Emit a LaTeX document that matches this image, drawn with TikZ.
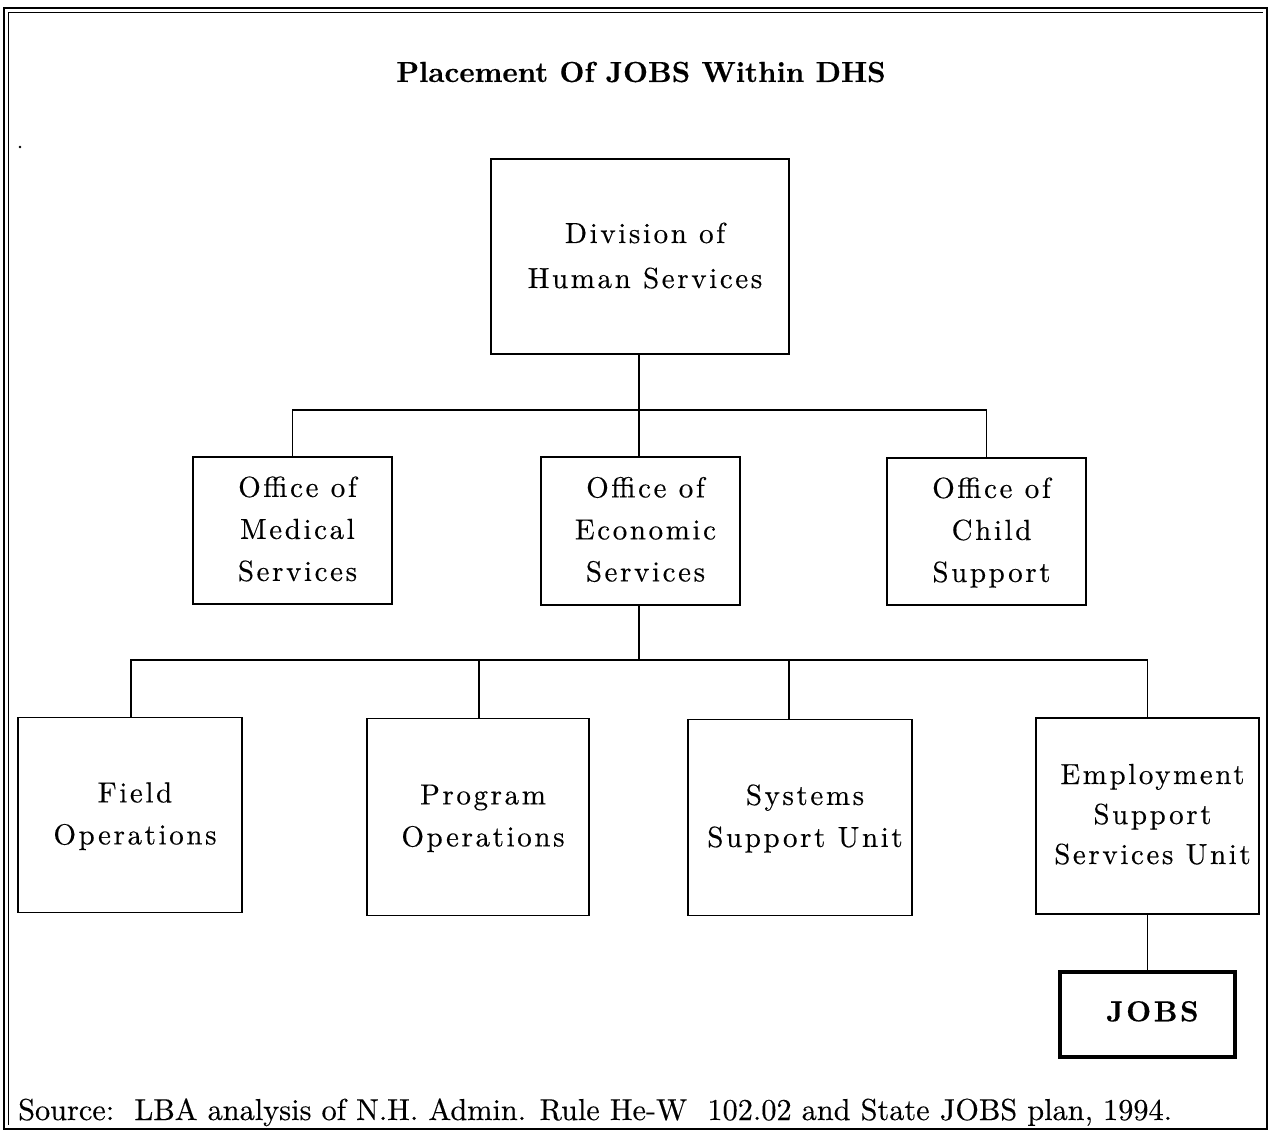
\documentclass[tikz,border=0pt]{standalone}
\usepackage{fontspec}
\setmainfont{lmroman10-regular.otf}[BoldFont=lmroman10-bold.otf,FakeBold=0.3]
\newfontfamily\spacedfont{lmroman10-regular.otf}[LetterSpace=9,BoldFont=lmroman10-bold.otf,FakeBold=0.4]
\newcommand\boxtext[1]{\begin{tabular}{@{\hspace{10pt}}c@{}}#1\end{tabular}}
\begin{document}
\begin{tikzpicture}[x=1pt,y=-1pt,
  orgbox/.style={draw,line width=1.5pt,inner sep=0pt,align=center,
    font=\spacedfont\fontsize{29}{42}\selectfont},
  conn/.style={line width=1.5pt},
  frameline/.style={line width=1.3pt}]
\useasboundingbox (0,0) rectangle (1269,1131);
% frame
\draw[frameline] (4,1129) -- (4,8) -- (1267,8) -- (1267,1129) -- cycle;
\draw[line width=0.9pt] (8,1125) -- (8,12) -- (1263,12);
\fill (20,147) circle (1.3);
% title
\node[font=\fontsize{29}{34}\selectfont\bfseries] (title) at (641,72) {Placement Of JOBS Within DHS};
% boxes
\node[orgbox,minimum width=298pt,minimum height=195pt,font=\spacedfont\fontsize{29}{45}\selectfont] (dhs) at (640,256.5) {\boxtext{Division of\\Human Services}};
\node[orgbox,minimum width=199pt,minimum height=147pt] (med) at (292.5,530.5) {\boxtext{Office of\\Medical\\Services}};
\node[orgbox,minimum width=199pt,minimum height=148pt] (eco) at (640.5,531) {\boxtext{Office of\\Economic\\Services}};
\node[orgbox,minimum width=199pt,minimum height=147pt] (chi) at (986.5,531.5) {\boxtext{Office of\\Child\\Support}};
\node[orgbox,minimum width=224pt,minimum height=195pt] (fld) at (130,815) {\boxtext{Field\\Operations}};
\node[orgbox,minimum width=222pt,minimum height=197pt] (prg) at (478,817) {\boxtext{Program\\Operations}};
\node[orgbox,minimum width=224pt,minimum height=196pt] (sys) at (800,817.5) {\boxtext{Systems\\Support Unit}};
\node[orgbox,minimum width=223pt,minimum height=196pt,font=\spacedfont\fontsize{29}{40}\selectfont] (emp) at (1147.5,816) {\boxtext{Employment\\Support\\Services Unit}};
\node[orgbox,line width=4pt,minimum width=175pt,minimum height=85pt,font=\spacedfont\fontsize{29}{34}\selectfont\bfseries] (jobs) at (1147.5,1014.5) {\boxtext{JOBS}};
% connectors level 1
\coordinate (j1) at (639,410);
\draw[conn] ([xshift=-1pt]dhs.south) -- (j1);
\draw[conn] (med.north) |- (j1) -| (chi.north);
\draw[conn] (j1) -- ([xshift=-1.5pt]eco.north);
% connectors level 2
\coordinate (j2) at (639,660);
\draw[conn] ([xshift=-1.5pt]eco.south) -- (j2);
\draw[conn] ([xshift=1pt]fld.north) |- (j2) -| (emp.north);
\draw[conn] ([xshift=1pt]prg.north) |- (j2);
\draw[conn] ([xshift=-11pt]sys.north) |- (j2);
\draw[conn] (emp.south) -- (jobs.north);
% source
\node[anchor=base west,inner sep=0pt,font=\fontsize{30.3}{36}\selectfont] (src) at (18,1120) {Source:\ \ LBA analysis of N.H. Admin. Rule He-W\ \ 102.02 and State JOBS plan, 1994.};
\end{tikzpicture}
\end{document}
